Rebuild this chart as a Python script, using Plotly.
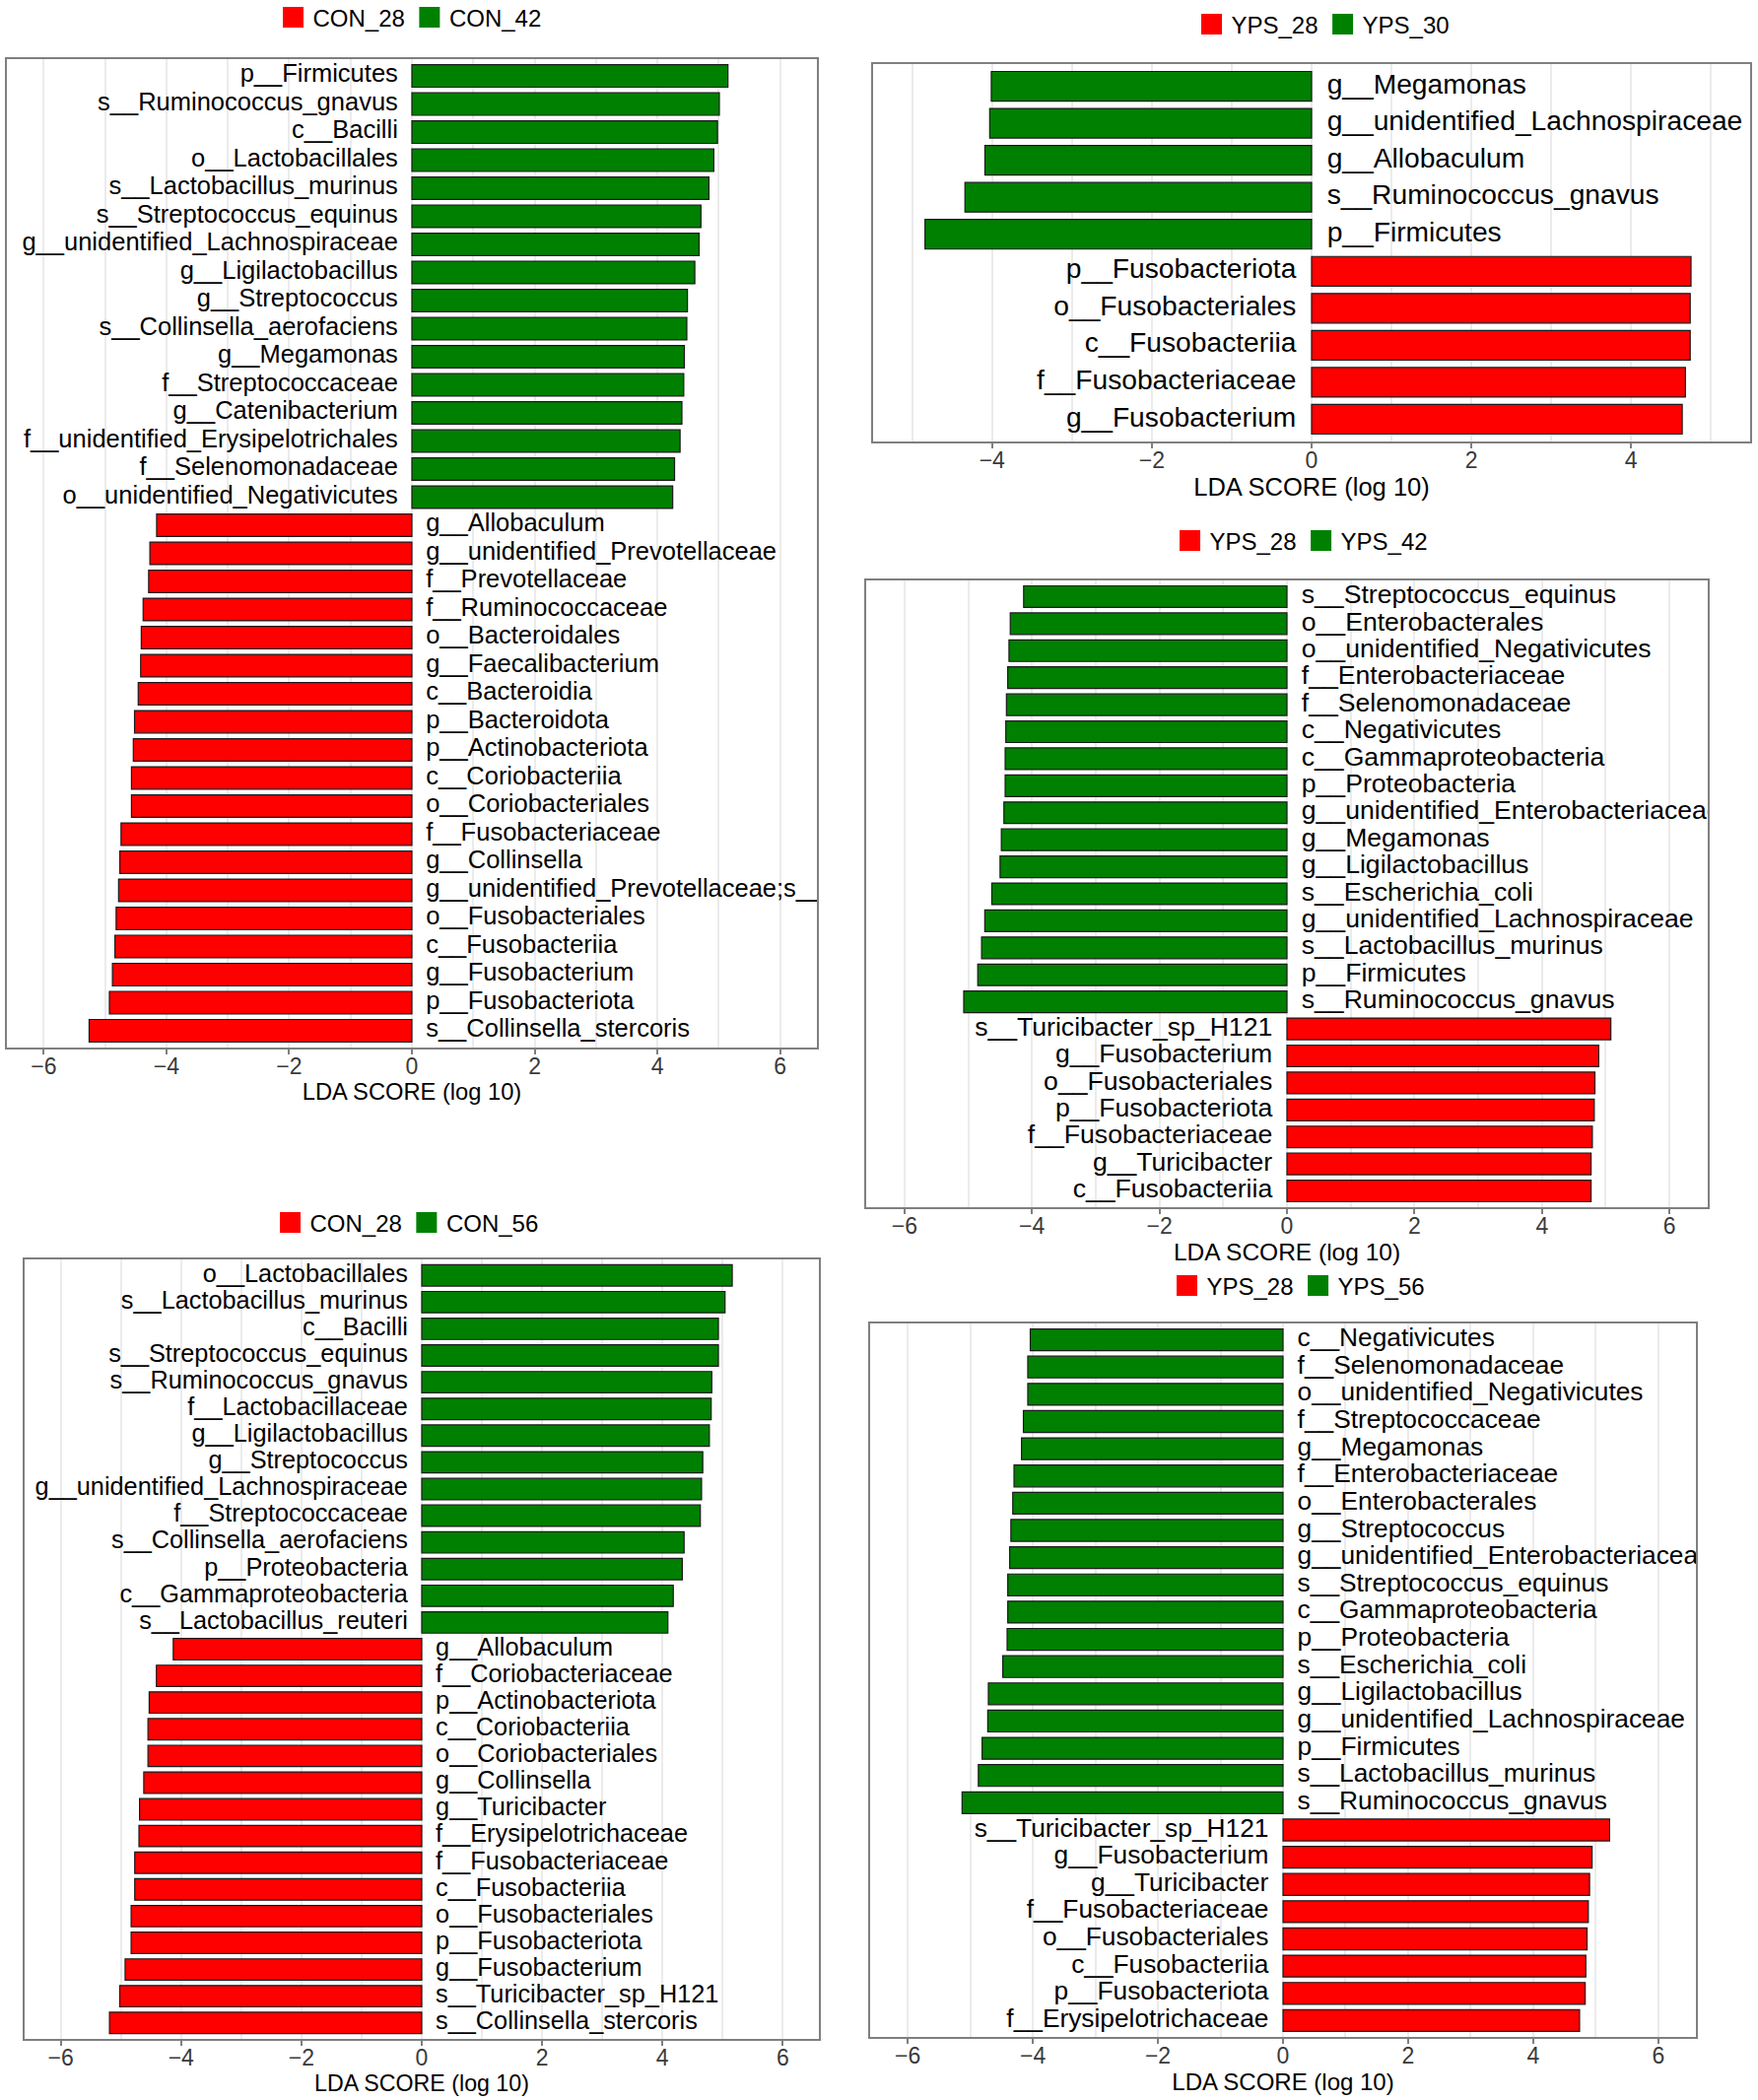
import plotly.graph_objects as go

W, H = 1784, 2131
RED = "#FF0000"
GREEN = "#008000"
FONT = "Liberation Sans, Arial, Helvetica, sans-serif"

# ---------------- Panel A : CON_28 vs CON_42 ----------------
a_red_group, a_green_group = "CON_28", "CON_42"
a_green_labels = ["p__Firmicutes", "s__Ruminococcus_gnavus", "c__Bacilli", "o__Lactobacillales",
                  "s__Lactobacillus_murinus", "s__Streptococcus_equinus", "g__unidentified_Lachnospiraceae",
                  "g__Ligilactobacillus", "g__Streptococcus", "s__Collinsella_aerofaciens", "g__Megamonas",
                  "f__Streptococcaceae", "g__Catenibacterium", "f__unidentified_Erysipelotrichales",
                  "f__Selenomonadaceae", "o__unidentified_Negativicutes"]
a_green_scores = [5.15, 5.01, 4.98, 4.92, 4.84, 4.71, 4.68, 4.61, 4.49, 4.48, 4.44, 4.43, 4.40, 4.37, 4.28, 4.25]
a_red_labels = ["g__Allobaculum", "g__unidentified_Prevotellaceae", "f__Prevotellaceae", "f__Ruminococcaceae",
                "o__Bacteroidales", "g__Faecalibacterium", "c__Bacteroidia", "p__Bacteroidota",
                "p__Actinobacteriota", "c__Coriobacteriia", "o__Coriobacteriales", "f__Fusobacteriaceae",
                "g__Collinsella", "g__unidentified_Prevotellaceae;s__", "o__Fusobacteriales", "c__Fusobacteriia",
                "g__Fusobacterium", "p__Fusobacteriota", "s__Collinsella_stercoris"]
a_red_scores = [-4.16, -4.27, -4.29, -4.38, -4.41, -4.42, -4.46, -4.52, -4.54, -4.57, -4.57, -4.74, -4.76,
                -4.78, -4.82, -4.84, -4.88, -4.93, -5.26]

# ---------------- Panel B : YPS_28 vs YPS_30 ----------------
b_red_group, b_green_group = "YPS_28", "YPS_30"
b_green_labels = ["g__Megamonas", "g__unidentified_Lachnospiraceae", "g__Allobaculum",
                  "s__Ruminococcus_gnavus", "p__Firmicutes"]
b_green_scores = [-4.01, -4.03, -4.09, -4.34, -4.84]
b_red_labels = ["p__Fusobacteriota", "o__Fusobacteriales", "c__Fusobacteriia", "f__Fusobacteriaceae",
                "g__Fusobacterium"]
b_red_scores = [4.75, 4.74, 4.74, 4.68, 4.64]

# ---------------- Panel C : YPS_28 vs YPS_42 ----------------
c_red_group, c_green_group = "YPS_28", "YPS_42"
c_green_labels = ["s__Streptococcus_equinus", "o__Enterobacterales", "o__unidentified_Negativicutes",
                  "f__Enterobacteriaceae", "f__Selenomonadaceae", "c__Negativicutes", "c__Gammaproteobacteria",
                  "p__Proteobacteria", "g__unidentified_Enterobacteriaceae", "g__Megamonas",
                  "g__Ligilactobacillus", "s__Escherichia_coli", "g__unidentified_Lachnospiraceae",
                  "s__Lactobacillus_murinus", "p__Firmicutes", "s__Ruminococcus_gnavus"]
c_green_scores = [-4.13, -4.34, -4.36, -4.38, -4.40, -4.41, -4.42, -4.42, -4.44, -4.48, -4.50, -4.63,
                  -4.74, -4.79, -4.85, -5.07]
c_red_labels = ["s__Turicibacter_sp_H121", "g__Fusobacterium", "o__Fusobacteriales", "p__Fusobacteriota",
                "f__Fusobacteriaceae", "g__Turicibacter", "c__Fusobacteriia"]
c_red_scores = [5.08, 4.89, 4.83, 4.82, 4.79, 4.77, 4.77]

# ---------------- Panel D : CON_28 vs CON_56 ----------------
d_red_group, d_green_group = "CON_28", "CON_56"
d_green_labels = ["o__Lactobacillales", "s__Lactobacillus_murinus", "c__Bacilli", "s__Streptococcus_equinus",
                  "s__Ruminococcus_gnavus", "f__Lactobacillaceae", "g__Ligilactobacillus", "g__Streptococcus",
                  "g__unidentified_Lachnospiraceae", "f__Streptococcaceae", "s__Collinsella_aerofaciens",
                  "p__Proteobacteria", "c__Gammaproteobacteria", "s__Lactobacillus_reuteri"]
d_green_scores = [5.16, 5.04, 4.93, 4.93, 4.82, 4.81, 4.78, 4.67, 4.65, 4.63, 4.36, 4.33, 4.18, 4.09]
d_red_labels = ["g__Allobaculum", "f__Coriobacteriaceae", "p__Actinobacteriota", "c__Coriobacteriia",
                "o__Coriobacteriales", "g__Collinsella", "g__Turicibacter", "f__Erysipelotrichaceae",
                "f__Fusobacteriaceae", "c__Fusobacteriia", "o__Fusobacteriales", "p__Fusobacteriota",
                "g__Fusobacterium", "s__Turicibacter_sp_H121", "s__Collinsella_stercoris"]
d_red_scores = [-4.13, -4.41, -4.53, -4.55, -4.55, -4.62, -4.69, -4.70, -4.77, -4.77, -4.83, -4.83,
                -4.93, -5.02, -5.19]

# ---------------- Panel E : YPS_28 vs YPS_56 ----------------
e_red_group, e_green_group = "YPS_28", "YPS_56"
e_green_labels = ["c__Negativicutes", "f__Selenomonadaceae", "o__unidentified_Negativicutes",
                  "f__Streptococcaceae", "g__Megamonas", "f__Enterobacteriaceae", "o__Enterobacterales",
                  "g__Streptococcus", "g__unidentified_Enterobacteriaceae", "s__Streptococcus_equinus",
                  "c__Gammaproteobacteria", "p__Proteobacteria", "s__Escherichia_coli", "g__Ligilactobacillus",
                  "g__unidentified_Lachnospiraceae", "p__Firmicutes", "s__Lactobacillus_murinus",
                  "s__Ruminococcus_gnavus"]
e_green_scores = [-4.04, -4.08, -4.08, -4.15, -4.18, -4.30, -4.32, -4.35, -4.37, -4.40, -4.40, -4.41,
                  -4.48, -4.71, -4.72, -4.81, -4.87, -5.13]
e_red_labels = ["s__Turicibacter_sp_H121", "g__Fusobacterium", "g__Turicibacter", "f__Fusobacteriaceae",
                "o__Fusobacteriales", "c__Fusobacteriia", "p__Fusobacteriota", "f__Erysipelotrichaceae"]
e_red_scores = [5.22, 4.94, 4.90, 4.88, 4.86, 4.84, 4.83, 4.74]

x_title = "LDA SCORE (log 10)"

# layout geometry (pixels): box x0, x1, y0, y1, x-range half width, legend centre x/y, font sizes
panels = [
    dict(red=(a_red_labels, a_red_scores, a_red_group), green=(a_green_labels, a_green_scores, a_green_group),
         box=(7, 829, 60, 1063), half=6.6, leg=(416, 18), lab=25.5, tit=23.7, std=3),
    dict(red=(b_red_labels, b_red_scores, b_red_group), green=(b_green_labels, b_green_scores, b_green_group),
         box=(886, 1776, 65, 448), half=5.49, leg=(1343, 25), lab=28.2, tit=25.5, std=6),
    dict(red=(c_red_labels, c_red_scores, c_red_group), green=(c_green_labels, c_green_scores, c_green_group),
         box=(879, 1733, 589, 1225), half=6.6, leg=(1321, 549), lab=26.6, tit=24.5, std=4),
    dict(red=(d_red_labels, d_red_scores, d_red_group), green=(d_green_labels, d_green_scores, d_green_group),
         box=(25, 831, 1278, 2069), half=6.6, leg=(413, 1241), lab=25.3, tit=23.2, std=1),
    dict(red=(e_red_labels, e_red_scores, e_red_group), green=(e_green_labels, e_green_scores, e_green_group),
         box=(883, 1721, 1343, 2067), half=6.6, leg=(1318, 1305), lab=26.3, tit=24.0, std=2),
]

fig = go.Figure()
layout_axes = {}
NB = "\u00a0\u00a0"

for i, p in enumerate(panels):
    k = "" if i == 0 else str(i + 1)
    xa, ya = "x" + k, "y" + k
    leg = "legend" + k
    g_labels, g_scores, g_name = p["green"]
    r_labels, r_scores, r_name = p["red"]
    order = list(g_labels) + list(r_labels)
    n = len(order)

    for labels, scores, name, color in ((r_labels, r_scores, r_name, RED), (g_labels, g_scores, g_name, GREEN)):
        fig.add_trace(go.Bar(
            x=scores, y=labels, orientation="h", name=name, showlegend=False,
            marker=dict(color=color, line=dict(color="#1a1a1a", width=1.2)),
            width=0.8, xaxis=xa, yaxis=ya, hoverinfo="x+y"))
        pos_txt = [(lab + NB) if s > 0 else (NB + lab) for lab, s in zip(labels, scores)]
        pos = ["middle left" if s > 0 else "middle right" for s in scores]
        fig.add_trace(go.Scatter(
            x=[0] * len(labels), y=labels, mode="text", text=pos_txt, textposition=pos,
            textfont=dict(family=FONT, size=p["lab"], color="black"),
            showlegend=False, hoverinfo="skip", cliponaxis=True, xaxis=xa, yaxis=ya))
    # legend keys
    for name, color in ((r_name, RED), (g_name, GREEN)):
        fig.add_trace(go.Scatter(
            x=[None], y=[None], mode="markers", name=name, legend=leg,
            marker=dict(symbol="square", size=16, color=color, line=dict(width=5, color=color)),
            xaxis=xa, yaxis=ya))

    x0, x1, y0, y1 = p["box"]
    layout_axes["xaxis" + k] = dict(
        domain=[x0 / W, x1 / W], anchor=ya, range=[-p["half"], p["half"]],
        tickmode="linear", tick0=0, dtick=2, ticks="outside", ticklen=5, tickcolor="#7f7f7f", tickwidth=1.5,
        tickfont=dict(family=FONT, size=23, color="#3a3a3a"), ticklabelstandoff=-7,
        showgrid=True, gridcolor="#ebebeb", gridwidth=2, zeroline=False,
        minor=dict(dtick=1, tick0=0, showgrid=True, gridcolor="#ebebeb", gridwidth=1.5, ticks=""),
        showline=True, mirror=True, linecolor="#7f7f7f", linewidth=1.5,
        title=dict(text=x_title, font=dict(family=FONT, size=p["tit"], color="black"), standoff=p["std"]),
        fixedrange=True)
    layout_axes["yaxis" + k] = dict(
        domain=[1 - y1 / H, 1 - y0 / H], anchor=xa, type="category",
        categoryorder="array", categoryarray=order, range=[n - 1 + 0.6, -0.6],
        showticklabels=False, ticks="", showgrid=False, zeroline=False,
        showline=True, mirror=True, linecolor="#7f7f7f", linewidth=1.5, fixedrange=True)
    lx, ly = p["leg"]
    layout_axes[leg] = dict(
        x=lx / W, y=1 - ly / H, xanchor="center", yanchor="middle", orientation="h",
        font=dict(family=FONT, size=24, color="black"), bgcolor="rgba(0,0,0,0)",
        itemwidth=30, tracegroupgap=0, itemclick=False, itemdoubleclick=False)

fig.update_layout(
    width=W, height=H, margin=dict(l=0, r=0, t=0, b=0, autoexpand=False),
    paper_bgcolor="white", plot_bgcolor="white", barmode="overlay",
    font=dict(family=FONT, color="black"),
    **layout_axes)

fig.write_html("out.html", config={"displayModeBar": False},
               post_script="document.body.style.margin='0';")
